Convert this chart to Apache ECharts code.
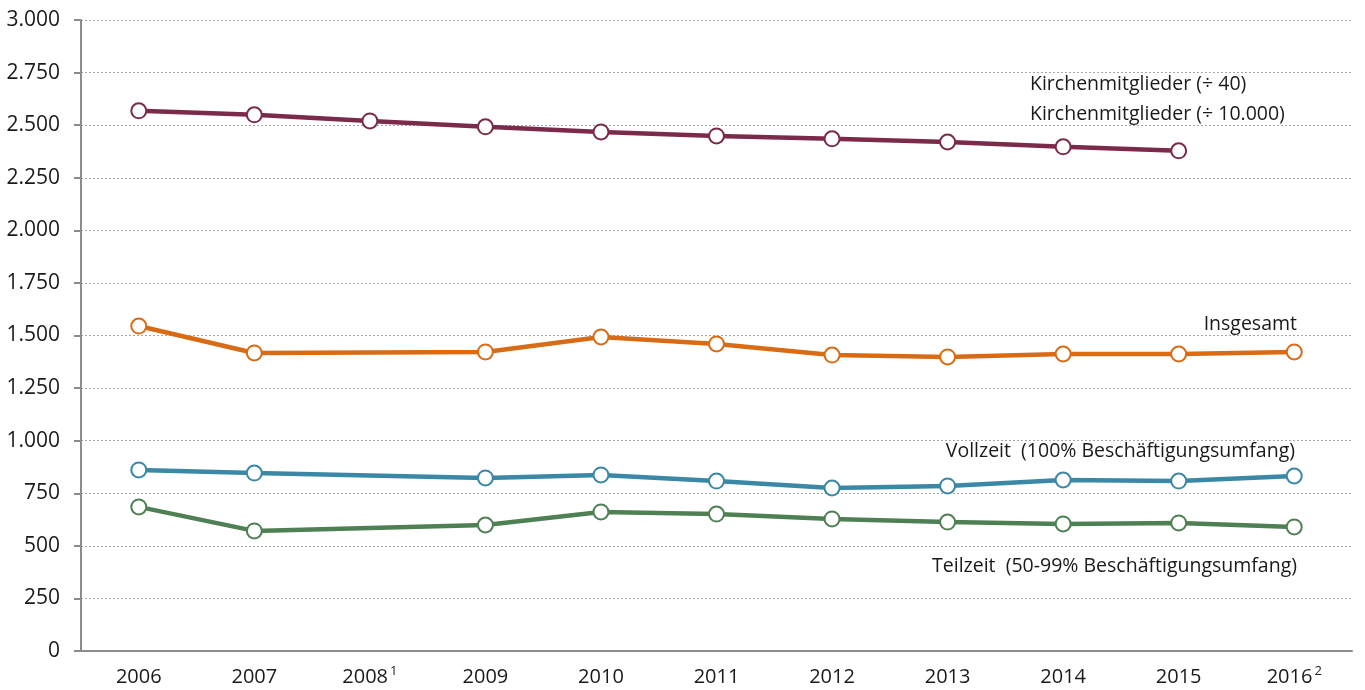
<!DOCTYPE html>
<html>
<head>
<meta charset="utf-8">
<script src="https://cdn.jsdelivr.net/npm/echarts@6/dist/echarts.min.js"></script>
<style>
  html, body { margin: 0; padding: 0; background: #fff; }
  #chart { width: 1365px; height: 690px; }
</style>
</head>
<body>
<div id="chart"></div>
<script>
  // Jahre (2008 und 2016 mit Fußnote)
  const years = ['2006', '2007', '2008{sup|1}', '2009', '2010', '2011', '2012', '2013', '2014', '2015', '2016{sup|2}']
  const yTicks = [0, 250, 500, 750, 1000, 1250, 1500, 1750, 2000, 2250, 2500, 2750, 3000]

  const kirchenmitglieder = [2568, 2549, 2520, 2492, 2468, 2449, 2435, 2420, 2397, 2378, null]
  const insgesamt = [1545, 1417, null, 1422, 1493, 1460, 1407, 1398, 1412, 1412, 1422]
  const vollzeit = [861, 846, null, 823, 837, 808, 775, 785, 813, 808, 832]
  const teilzeit = [685, 571, null, 599, 661, 651, 628, 613, 604, 609, 590]

  const font = '"Open Sans", "Noto Sans", sans-serif'
  const labelFont = '19.5px ' + font

  function lineSeries(name, data, color) {
    return {
      name: name,
      type: 'line',
      data: data,
      connectNulls: true,
      symbol: 'emptyCircle',
      symbolSize: 15,
      lineStyle: { color: color, width: 4.5 },
      itemStyle: { color: color, borderColor: color, borderWidth: 2 },
      z: 3,
    }
  }

  function note(text, x, y, align) {
    return {
      type: 'text',
      x: x,
      y: y,
      style: { text: text, font: labelFont, fill: '#1a1a1a', align: align, verticalAlign: 'middle' },
    }
  }

  const chart = echarts.init(document.getElementById('chart'))
  chart.setOption({
    animation: false,
    grid: { left: 81, right: 13, top: 20, bottom: 39 },
    textStyle: { fontFamily: font },
    xAxis: {
      type: 'category',
      data: years,
      boundaryGap: true,
      axisLine: { lineStyle: { color: '#8c8c8c', width: 2 } },
      axisTick: { length: 6, lineStyle: { color: '#8c8c8c', width: 2 } },
      axisLabel: {
        interval: 0,
        color: '#1a1a1a',
        fontSize: 20,
        lineHeight: 24,
        margin: 14,
        fontFamily: font,
        rich: {
          sup: { fontSize: 13, lineHeight: 13, verticalAlign: 'top', padding: [0, 0, 0, 2], color: '#1a1a1a' },
        },
      },
    },
    yAxis: {
      type: 'value',
      min: yTicks[0],
      max: yTicks[yTicks.length - 1],
      interval: 250,
      axisLine: { show: true, lineStyle: { color: '#8c8c8c', width: 2 } },
      axisTick: { show: true, length: 7, lineStyle: { color: '#8c8c8c', width: 2 } },
      splitLine: { lineStyle: { color: '#a6a6a6', type: [2, 2], width: 1 } },
      axisLabel: {
        color: '#1a1a1a',
        fontSize: 21,
        margin: 21,
        fontFamily: font,
        formatter: v => v.toLocaleString('de-DE'),
      },
    },
    graphic: [
      note('Kirchenmitglieder (÷ 40)', 1030, 84, 'left'),
      note('Kirchenmitglieder (÷ 10.000)', 1030, 114, 'left'),
      note('Insgesamt', 1297, 324, 'right'),
      note('Vollzeit  (100% Beschäftigungsumfang)', 1295, 451, 'right'),
      note('Teilzeit  (50-99% Beschäftigungsumfang)', 1297, 566, 'right'),
    ],
    series: [
      lineSeries('Kirchenmitglieder', kirchenmitglieder, '#7b2a4a'),
      lineSeries('Insgesamt', insgesamt, '#d96b15'),
      lineSeries('Vollzeit', vollzeit, '#3a87a6'),
      lineSeries('Teilzeit', teilzeit, '#4f8053'),
    ],
  })
</script>
</body>
</html>
